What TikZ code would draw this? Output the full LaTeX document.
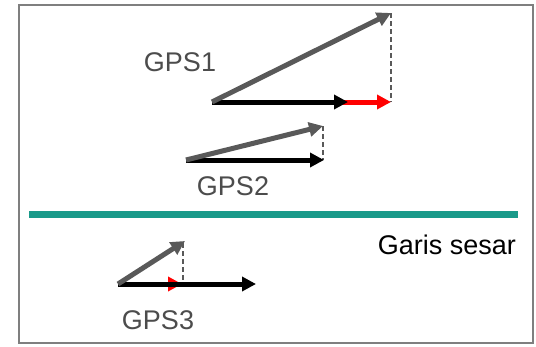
\documentclass[tikz,border=0pt]{standalone}
\usepackage{fontspec}
\setmainfont{Liberation Sans}
\usetikzlibrary{arrows.meta}
\definecolor{vgray}{HTML}{595959}
\definecolor{fault}{HTML}{1A9A8A}
\definecolor{framec}{HTML}{7F7F7F}
\tikzset{
  vec/.style={line width=5pt,-{Triangle[length=14pt,width=14pt]}},
  obs/.style={vec,draw=vgray},
  blk/.style={vec,draw=black},
  rd/.style={vec,draw=red},
  proj/.style={draw=vgray,line width=1.4pt,dash pattern=on 5pt off 3pt},
  lbl/.style={font=\fontsize{27}{30}\selectfont,text=vgray!85!black,inner sep=0pt}
}
\begin{document}
\begin{tikzpicture}[x=1pt,y=-1pt]
\useasboundingbox (0,0) rectangle (536,346);
\fill[white] (0,0) rectangle (536,346);
\draw[framec,line width=2pt] (19,4.5) rectangle (533,343);
% GPS1
\coordinate (o1) at (212,102);
\coordinate (b1) at (348,102);
\coordinate (r1) at (391,102);
\coordinate (t1) at (391,13);
\draw[proj] (t1) -- (r1);
\draw[rd] (o1) -- (r1);
\draw[blk] (o1) -- (b1);
\draw[obs] (o1) -- (t1);
\node[lbl] (g1) at (180,62) {GPS1};
% GPS2
\coordinate (o2) at (186,160);
\coordinate (b2) at (324,160);
\coordinate (t2) at (323,126);
\draw[proj] (t2) -- (323,160);
\draw[blk] (o2) -- (b2);
\draw[obs] (o2) -- (t2);
\node[lbl] (g2) at (233,186) {GPS2};
% fault
\coordinate (f1) at (29,214);
\coordinate (f2) at (518,214);
\draw[fault,line width=7pt] (f1) -- (f2);
\node[font=\fontsize{27}{30}\selectfont,anchor=east,inner sep=0pt] (gs) at (516,245) {Garis sesar};
% GPS3
\coordinate (o3) at (118,284);
\coordinate (r3) at (182,284);
\coordinate (b3) at (256,284);
\coordinate (t3) at (185,241);
\draw[proj] (183,243) -- (183,284);
\draw[rd] (o3) -- (r3);
\draw[blk] (o3) -- (b3);
\draw[obs] (o3) -- (t3);
\node[lbl] (g3) at (158,320) {GPS3};
\end{tikzpicture}
\end{document}
